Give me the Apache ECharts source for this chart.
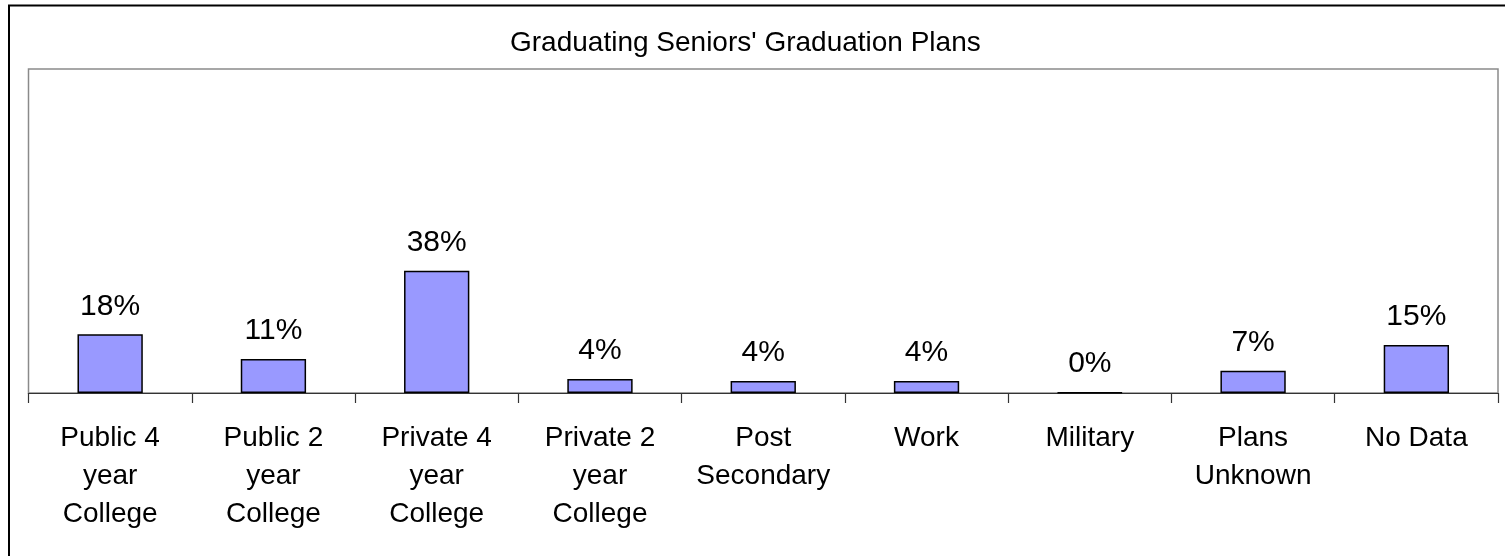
<!DOCTYPE html>
<html>
<head>
<meta charset="utf-8">
<script src="https://cdn.jsdelivr.net/npm/echarts@6/dist/echarts.min.js"></script>
<style>
html,body{margin:0;padding:0;background:#fff;}
#chart{width:1505px;height:556px;}
</style>
</head>
<body>
<div id="chart"></div>
<script>
var titleText = "Graduating Seniors' Graduation Plans";
var categories = ["Public 4\nyear\nCollege", "Public 2\nyear\nCollege", "Private 4\nyear\nCollege", "Private 2\nyear\nCollege", "Post\nSecondary", "Work", "Military", "Plans\nUnknown", "No Data"];
var percentValues = [18.1, 10.5, 37.7, 4.3, 3.7, 3.7, 0.2, 6.9, 14.8];

var chart = echarts.init(document.getElementById('chart'), null, {renderer: 'canvas'});
var font = 'Liberation Sans, Arial, sans-serif';
chart.setOption({
  animation: false,
  backgroundColor: '#fff',
  title: {
    text: titleText,
    left: 510,
    top: 29,
    padding: 0,
    textStyle: {fontFamily: font, fontSize: 28, fontWeight: 'normal', color: '#000', lineHeight: 28}
  },
  graphic: [{
    type: 'rect',
    shape: {x: 9, y: 5.5, width: 1600, height: 600},
    style: {fill: 'none', stroke: '#000', lineWidth: 2},
    silent: true
  }],
  grid: {
    left: 28.5, right: 7, top: 69, bottom: 163,
    show: true, borderColor: '#8a8a8a', borderWidth: 1.5, backgroundColor: 'transparent'
  },
  xAxis: {
    type: 'category',
    data: categories,
    boundaryGap: true,
    axisLine: {show: true, lineStyle: {color: '#333', width: 1.2}},
    axisTick: {show: true, alignWithLabel: false, interval: 0, length: 10, lineStyle: {color: '#333', width: 1.2}},
    axisLabel: {
      interval: 0, margin: 26, color: '#000',
      fontFamily: font, fontSize: 28, lineHeight: 38
    }
  },
  yAxis: {
    type: 'value', min: 0, max: 100,
    show: false,
    splitLine: {show: false}
  },
  series: [{
    type: 'bar',
    data: percentValues,
    barWidth: '40%',
    itemStyle: {color: '#9999FF', borderColor: '#000', borderWidth: 1.5},
    label: {
      show: true, position: 'top', distance: 13,
      fontFamily: font, fontSize: 30, lineHeight: 30, color: '#000',
      formatter: function (p) { return Math.round(p.value) + '%'; }
    }
  }]
});
</script>
</body>
</html>
